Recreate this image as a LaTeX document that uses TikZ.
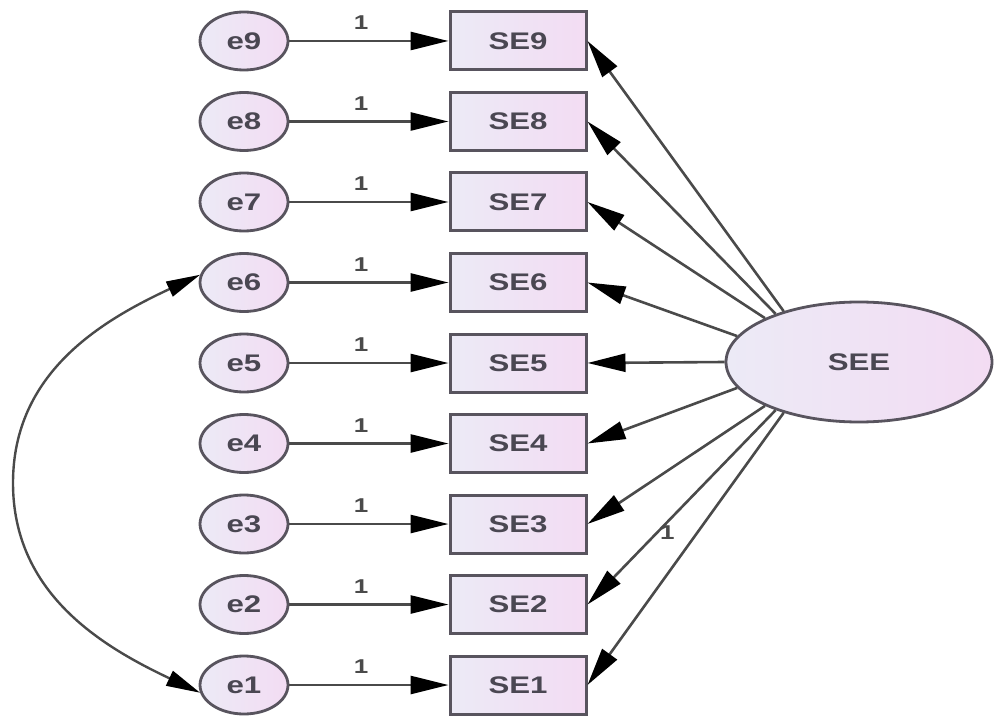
\documentclass[tikz,border=0pt]{standalone}
\usepackage{fontspec}
\setmainfont{Liberation Sans}
\newfontfamily\dfont{Liberation Sans}[FakeStretch=1.3]
\usetikzlibrary{arrows.meta,shapes.geometric}
\definecolor{edgec}{HTML}{58545E}
\definecolor{linec}{HTML}{4A4A4A}
\definecolor{txtc}{HTML}{4A4752}
\definecolor{fillL}{HTML}{ECEAF6}
\definecolor{fillR}{HTML}{F3DCF3}
\begin{document}
\begin{tikzpicture}[x=1pt,y=-1pt,
  errnode/.style={ellipse, draw=edgec, line width=2.8pt, minimum width=88pt, minimum height=58pt, inner sep=0pt,
    left color=fillL, right color=fillR, text=txtc, font=\dfont\bfseries\fontsize{24}{24}\selectfont},
  obsbox/.style={rectangle, draw=edgec, line width=3pt, minimum width=136pt, minimum height=58pt, inner sep=0pt,
    left color=fillL, right color=fillR, text=txtc, font=\dfont\bfseries\fontsize{24}{24}\selectfont},
  latnode/.style={ellipse, draw=edgec, line width=2.8pt, minimum width=266pt, minimum height=120pt, inner sep=0pt,
    left color=fillL, right color=fillR, text=txtc, font=\dfont\bfseries\fontsize{24}{24}\selectfont},
  conn/.style={draw=linec, line width=2.6pt, -{Triangle[length=38pt,width=18pt,color=black]}},
  dconn/.style={draw=linec, line width=2.4pt, {Triangle[length=34pt,width=16pt,color=black]}-{Triangle[length=34pt,width=16pt,color=black]}},
  onelbl/.style={text=linec, font=\dfont\bfseries\fontsize{20}{20}\selectfont, inner sep=0pt}
]
\useasboundingbox (0,0) rectangle (995,719);
\fill[white] (0,0) rectangle (995,719);

\foreach \i in {1,...,9}{
  \pgfmathsetmacro{\yy}{41+80.5*(9-\i)}
  \node[errnode] (e\i) at (244,\yy) {e\i};
  \node[obsbox] (SE\i) at (518,\yy) {SE\i};
  \draw[conn] (e\i) -- node[onelbl, pos=0.45, above=10pt] {1} (SE\i);
}

\node[latnode] (SEE) at (859,362) {SEE};

\draw[conn] (SEE.146) -- (SE9.east);
\draw[conn] (SEE.150) -- (SE8.east);
\draw[conn] (SEE.155) -- (SE7.east);
\draw[conn] (SEE.168) -- (SE6.east);
\draw[conn] (SEE.180) -- (SE5.east);
\draw[conn] (SEE.192) -- (SE4.east);
\draw[conn] (SEE.205) -- (SE3.east);
\draw[conn] (SEE.210) -- (SE2.east);
\draw[conn] (SEE.214) -- node[onelbl, pos=0.44, xshift=-30pt] {1} (SE1.east);

\coordinate (cl) at (13,483);
\draw[dconn] (e6.170) .. controls (101,321) and (13,373) .. (cl)
  .. controls (13,593) and (101,646) .. (e1.190);
\end{tikzpicture}
\end{document}
